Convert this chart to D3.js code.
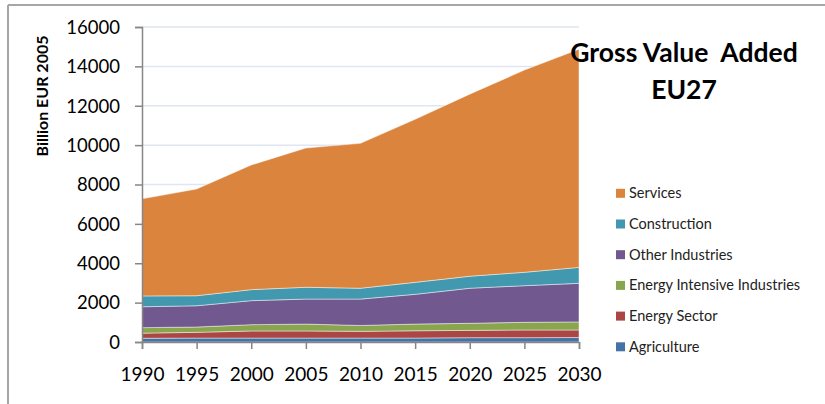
<!DOCTYPE html>
<html><head><meta charset="utf-8">
<script src="https://cdn.jsdelivr.net/npm/d3@7"></script>
<style>body{margin:0;background:#fff}svg{display:block}</style>
</head><body><svg id="c" width="825" height="404"></svg>
<script>
const years = [1990,1995,2000,2005,2010,2015,2020,2025,2030];
const seriesNames = ["Agriculture","Energy Sector","Energy Intensive Industries","Other Industries","Construction","Services"];
const agriculture = [190,200,200,200,200,200,220,220,230];
const energySector = [260,290,360,360,340,370,370,390,380];
const energyIntensive = [280,270,320,350,300,340,360,390,410];
const otherIndustries = [1060,1080,1220,1270,1340,1510,1780,1860,1960];
const construction = [550,510,560,600,550,610,610,680,810];
const services = [4930,5420,6330,7070,7360,8280,9250,10270,11080];
const yTicks = [0,2000,4000,6000,8000,10000,12000,14000,16000];
const colors = ["#4572A7","#AA4643","#89A54E","#71588F","#4198AF","#DB843D"];

const allSeries = [agriculture,energySector,energyIntensive,otherIndustries,construction,services];
const table = years.map((y,i)=>{const o={year:y};seriesNames.forEach((n,k)=>o[n]=allSeries[k][i]);return o;});

const svg = d3.select("#c");
const font = "Lato, 'Open Sans', sans-serif";
// frame
svg.append("line").attr("x1",8).attr("x2",825).attr("y1",5).attr("y2",5).attr("stroke","#a6a6a6").attr("stroke-width",2);
svg.append("line").attr("x1",8).attr("x2",8).attr("y1",5).attr("y2",404).attr("stroke","#a6a6a6").attr("stroke-width",2);

const x = d3.scaleLinear().domain([1990,2030]).range([142,579]);
const y = d3.scaleLinear().domain([0,16000]).range([342,27]);

// gridlines
svg.append("g").selectAll("line").data(yTicks.filter(d=>d>0)).join("line")
  .attr("x1",142).attr("x2",579).attr("y1",d=>y(d)).attr("y2",d=>y(d))
  .attr("stroke","#dfe5f1").attr("stroke-width",1.5);

const stack = d3.stack().keys(seriesNames)(table);
const area = d3.area().x(d=>x(d.data.year)).y0(d=>y(d[0])).y1(d=>y(d[1]));
svg.append("g").selectAll("path").data(stack).join("path")
  .attr("d",area).attr("fill",(d,i)=>colors[i])
  .attr("stroke","rgba(255,255,255,0.45)").attr("stroke-width",1);

// axes
const yAxis = d3.axisLeft(y).tickValues(yTicks).tickSize(7).tickPadding(15).tickFormat(d3.format("d"));
const gy = svg.append("g").attr("transform","translate(142,0)").call(yAxis);
gy.select(".domain").attr("stroke","#868686").attr("stroke-width",1.5);
gy.selectAll(".tick line").attr("stroke","#868686").attr("stroke-width",1.5);
gy.selectAll("text").attr("font-family",font).attr("font-size",18.5).attr("fill","#000").attr("dy","0.34em");

const xAxis = d3.axisBottom(x).tickValues(years).tickSize(7).tickPadding(19).tickFormat(d3.format("d"));
const gx = svg.append("g").attr("transform","translate(0,342)").call(xAxis);
gx.select(".domain").attr("stroke","#868686").attr("stroke-width",1.5);
gx.selectAll(".tick line").attr("stroke","#868686").attr("stroke-width",1.5);
gx.selectAll("text").attr("font-family",font).attr("font-size",19).attr("fill","#000");

// y title
svg.append("text").attr("transform","translate(48,96) rotate(-90)").attr("text-anchor","middle")
  .attr("font-family",font).attr("font-weight","bold").attr("font-size",16).text("Billion EUR 2005");

// title
svg.append("text").attr("x",684).attr("y",62).attr("text-anchor","middle").attr("font-family",font)
  .attr("font-weight","bold").attr("font-size",26.5).attr("xml:space","preserve").text("Gross Value  Added");
svg.append("text").attr("x",684).attr("y",99).attr("text-anchor","middle").attr("font-family",font)
  .attr("font-weight","bold").attr("font-size",26.5).text("EU27");

// legend
const legendOrder = seriesNames.map((n,i)=>({n,c:colors[i]})).reverse();
const lg = svg.append("g").selectAll("g").data(legendOrder).join("g")
  .attr("transform",(d,i)=>`translate(616,${193.3+i*30.7})`);
lg.append("rect").attr("x",0).attr("y",-4.5).attr("width",9).attr("height",9).attr("fill",d=>d.c);
lg.append("text").attr("x",13).attr("dy","0.35em").attr("font-family",font).attr("font-size",14.5)
  .attr("fill","#222").text(d=>d.n);
</script></body></html>
